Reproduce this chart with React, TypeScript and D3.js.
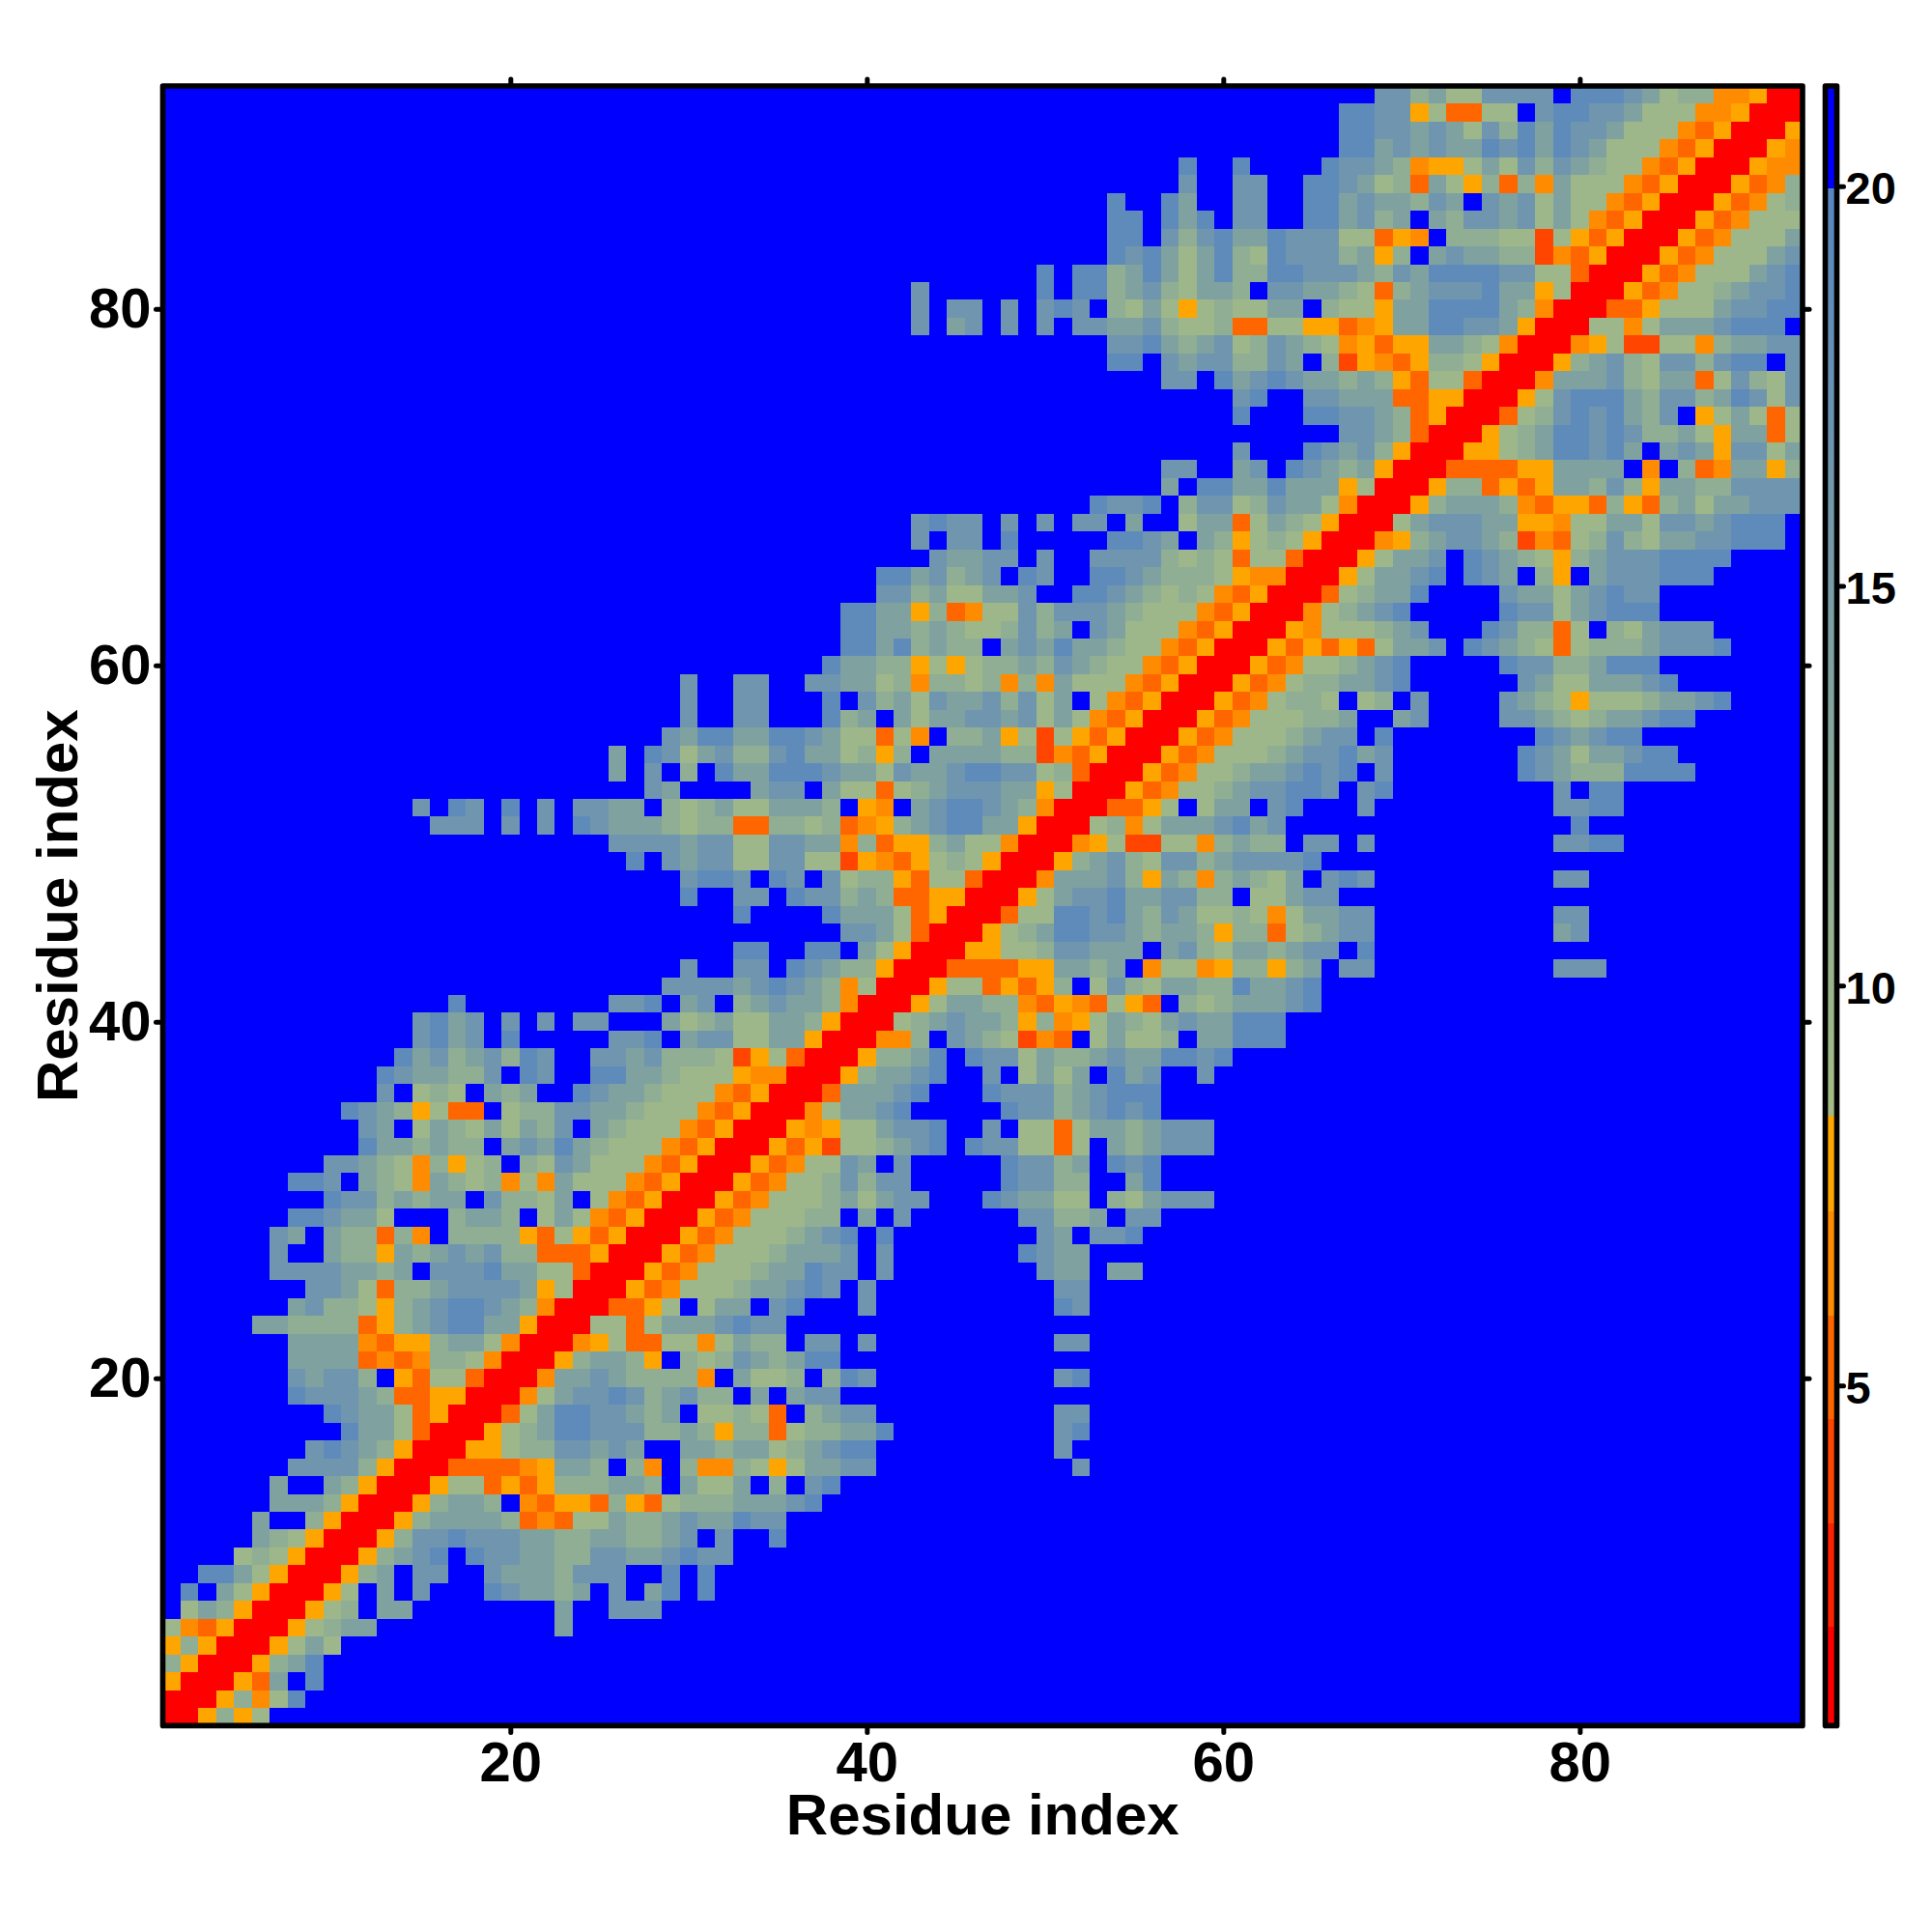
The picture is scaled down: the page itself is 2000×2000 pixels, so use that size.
import React, { useEffect, useRef } from 'react';
import * as d3 from 'd3';

// Symmetric residue distance map. Row n starts at the diagonal cell (n, n),
// '.' is beyond the cutoff, trailing cells of a row are all beyond it.
const upperRows: string[] = [
  'rra2a1',
  'rra2n15',
  'rrao3.5',
  'rra235',
  'rra131',
  'rra1233..........3',
  'rra12.33........3..444',
  'rra1.3.4...543323.4.35.5',
  'rra23.44..43332444..5.5',
  'rra2345.544332244334544',
  'rra24454443322332234.4..5',
  'rra233332ono113223433544',
  'rra2332.noaao2ao122233345',
  'rra11oaoa222332.3113.2.45',
  'rroooona332.2n.2nn21a13344...........4',
  'rraa12244343..33233123455..........4',
  'rra123554442232a22o122335.........45',
  'rro135544323.1121o.2344..........44',
  'rrn13445423422.3.344',
  'rrn33432222n.3112.254..........45',
  'rra2332a.212432355',
  'rrna1oo11n1322.44.4..........44',
  'rr11o13334544',
  'rrooa1.133.45...4..........54',
  'rraon111233454.4..........44',
  'rraon111233544.4........433.33',
  'rraon11123334.4.......5433',
  'rraon1112345.5........43.445',
  'rraon11122.3.4......44223.44',
  'rraon111231344...543311.213444',
  'rraon1124244.....54422..35',
  'rraon1143.4.....54423.545',
  'rraoaq112345.54411o1.323444',
  'rrana113445..4.11o13323444',
  'rrn13345.....544234545',
  'rro33345...5444234555',
  'rra23345..4.1313.534..4',
  'rra2235.544132234335545',
  'rrnn2.4321qno.13112.33555',
  'rr1234332a2na13213433555',
  'rra13322noano1ao.21233345',
  'rra11oaoa2.1421332253345',
  'rrooooaa3323.n11na22a23.44..........444',
  'rraa11244333.3421332344.5',
  'rra123554432332a22o12344..........34',
  'rro11554532431121n13344..........44',
  'rra13445334422.11344',
  'rrn33342a32n23213.454..........44',
  'rra23421442344445',
  'rrna1qq11n2322.44.4..........4455',
  'rr12n13334534................5',
  'rrooa1.133.45...4..........4455',
  'rraon112344554.45.........4.55',
  'rraon112334545.4.......5432225555',
  'rraon1112344534.......543133455',
  'rraon1112344.5........543455',
  'rraon111223..34....44321233455',
  'rraon1221.12.4....4321a11123345',
  'rraon1223345......431133345',
  'rraon112345.....544223555',
  'rraoaoao1334.54321o122234445',
  'rran111234...5422o1.213444',
  'rrn12345.....544134555',
  'rro12335....433134544',
  'rra13345.543.2a.3444555',
  'rra1334.54321a234445555',
  'rrna234432qno124213344555',
  'rr1344433aan113314434555',
  'rra23332noaao2ao23133444',
  'rra22oaoa33242a33224444',
  'rrooooaa3333.n.2on33a2',
  'rraa12355453.343a4413',
  'rra123554542231a33o1',
  'rro124545324.a131o1',
  'rra145553244235414',
  'rrn33342133o14214',
  'rra23421442455.4',
  'rrna1qq11n23344',
  'rr11n13334555',
  'rrooa11134455',
  'rraon1123445',
  'rraon111345',
  'rraon11134',
  'rraon1113',
  'rraon111',
  'rraon12',
  'rraon2',
  'rrann',
  'rran',
  'rra',
  'rr',
  'r',
];

// distance (in angstrom) that each letter in the rows stands for
const levelChars = ['r', 'q', 'o', 'n', 'a', '1', '2', '3', '4', '5', '.'];
const levelValues = [1.5, 4, 5.2, 6.5, 7.8, 9.5, 11.5, 14, 16.5, 19, 25];

const axisTicks = [20, 40, 60, 80];
const barTicks = [5, 10, 15, 20];
const warmBreaks = [2.03, 3.3, 4.58, 5.86, 7.14, 8.42];
const warmColors = ['#ff0000', '#ff2200', '#ff4500', '#ff6600', '#ff8c00', '#ffa500'];
const axisTitle = 'Residue index';

const N = upperRows.length;
const FONT = '"Liberation Sans", Arial, sans-serif';

const warm = d3.scaleThreshold<number, string>().domain(warmBreaks).range([...warmColors, '#ffa500']);
const cool = d3.scaleLinear<string>().domain([8.42, 20]).range(['#a4bc84', '#5886c0']);
const colorOf = (v: number) => (v > 20 ? '#0000ff' : v < 8.42 ? warm(v) : cool(v));

function App() {
  const root = useRef<SVGSVGElement>(null);

  useEffect(() => {
    const svg = d3.select(root.current);
    svg.selectAll('*').remove();

    const left = 168.5;
    const right = 1866;
    const top = 89;
    const bottom = 1786.4;

    const x = d3.scaleLinear().domain([0.5, N + 0.5]).range([left, right]);
    const y = d3.scaleLinear().domain([0.5, N + 0.5]).range([bottom, top]);
    const step = x(2) - x(1);

    const cells: { i: number; j: number; v: number }[] = [];
    upperRows.forEach((row, r) => {
      d3.range(N - r).forEach(k => {
        const ch = row[k] ?? '.';
        const v = levelValues[levelChars.indexOf(ch)];
        cells.push({ i: r + 1 + k, j: r + 1, v });
        if (k > 0) cells.push({ i: r + 1, j: r + 1 + k, v });
      });
    });

    svg.append('clipPath').attr('id', 'plot-clip')
      .append('rect')
      .attr('x', left).attr('y', top)
      .attr('width', right - left).attr('height', bottom - top);

    svg.append('g')
      .attr('clip-path', 'url(#plot-clip)')
      .attr('shape-rendering', 'crispEdges')
      .selectAll('rect')
      .data(cells)
      .join('rect')
      .attr('x', d => x(d.i - 0.5))
      .attr('y', d => y(d.j + 0.5))
      .attr('width', step)
      .attr('height', step)
      .attr('fill', d => colorOf(d.v));

    svg.append('rect')
      .attr('x', left).attr('y', top)
      .attr('width', right - left).attr('height', bottom - top)
      .attr('fill', 'none')
      .attr('stroke', '#000')
      .attr('stroke-width', 5.6)
      .attr('stroke-linejoin', 'round');

    const styleAxis = (g: any, size: number) => {
      g.select('.domain').remove();
      g.selectAll('.tick line')
        .attr('stroke', '#000')
        .attr('stroke-width', 5)
        .attr('stroke-linecap', 'round');
      g.selectAll('text')
        .attr('fill', '#000')
        .attr('font-family', FONT)
        .attr('font-weight', 700)
        .attr('font-size', size);
    };

    // d3 axis ticks run from the border outwards; the border hides their start
    svg.append('g')
      .attr('transform', `translate(0,${bottom})`)
      .call(d3.axisBottom(x).tickValues(axisTicks).tickSize(7).tickPadding(9) as any)
      .call((g: any) => styleAxis(g, 58));
    svg.append('g')
      .attr('transform', `translate(${left},0)`)
      .call(d3.axisLeft(y).tickValues(axisTicks).tickSize(7).tickPadding(5) as any)
      .call((g: any) => styleAxis(g, 58));
    svg.append('g')
      .attr('transform', `translate(0,${top})`)
      .call(d3.axisTop(x).tickValues(axisTicks).tickSize(7).tickFormat(() => '') as any)
      .call((g: any) => styleAxis(g, 58));
    svg.append('g')
      .attr('transform', `translate(${right},0)`)
      .call(d3.axisRight(y).tickValues(axisTicks).tickSize(7).tickFormat(() => '') as any)
      .call((g: any) => styleAxis(g, 58));

    svg.append('text')
      .attr('x', (left + right) / 2)
      .attr('y', 1899)
      .attr('text-anchor', 'middle')
      .attr('font-family', FONT)
      .attr('font-weight', 700)
      .attr('font-size', 60)
      .text(axisTitle);
    svg.append('text')
      .attr('transform', `translate(80,${(top + bottom) / 2}) rotate(-90)`)
      .attr('text-anchor', 'middle')
      .attr('font-family', FONT)
      .attr('font-weight', 700)
      .attr('font-size', 60)
      .text(axisTitle);

    // colour bar
    const barLeft = 1889.5;
    const barRight = 1901.5;
    const barTop = 89;
    const barBottom = 1786.4;
    const barY = d3.scaleLinear().domain([0.78, 21.22]).range([1783.5, 91.7]);
    const slices = d3.range(0.78, 21.22, 0.1);

    svg.append('g')
      .attr('shape-rendering', 'crispEdges')
      .selectAll('rect')
      .data(slices)
      .join('rect')
      .attr('x', barLeft)
      .attr('y', d => barY(d + 0.1))
      .attr('width', barRight - barLeft)
      .attr('height', d => barY(d) - barY(d + 0.1) + 0.3)
      .attr('fill', d => colorOf(d + 0.05));

    svg.append('rect')
      .attr('x', barLeft).attr('y', barTop)
      .attr('width', barRight - barLeft).attr('height', barBottom - barTop)
      .attr('fill', 'none')
      .attr('stroke', '#000')
      .attr('stroke-width', 5.6)
      .attr('stroke-linejoin', 'round');

    svg.append('g')
      .attr('transform', `translate(${barRight},0)`)
      .call(d3.axisRight(barY).tickValues(barTicks).tickSize(7).tickPadding(2) as any)
      .call((g: any) => styleAxis(g, 47))
      .call((g: any) => g.selectAll('text').attr('dy', '0.38em'));
  }, []);

  return (
    <svg
      ref={root}
      width={2000}
      height={2000}
      viewBox="0 0 2000 2000"
      style={{ position: 'absolute', left: 0, top: 0, background: '#fff' }}
    />
  );
}

export default App;
